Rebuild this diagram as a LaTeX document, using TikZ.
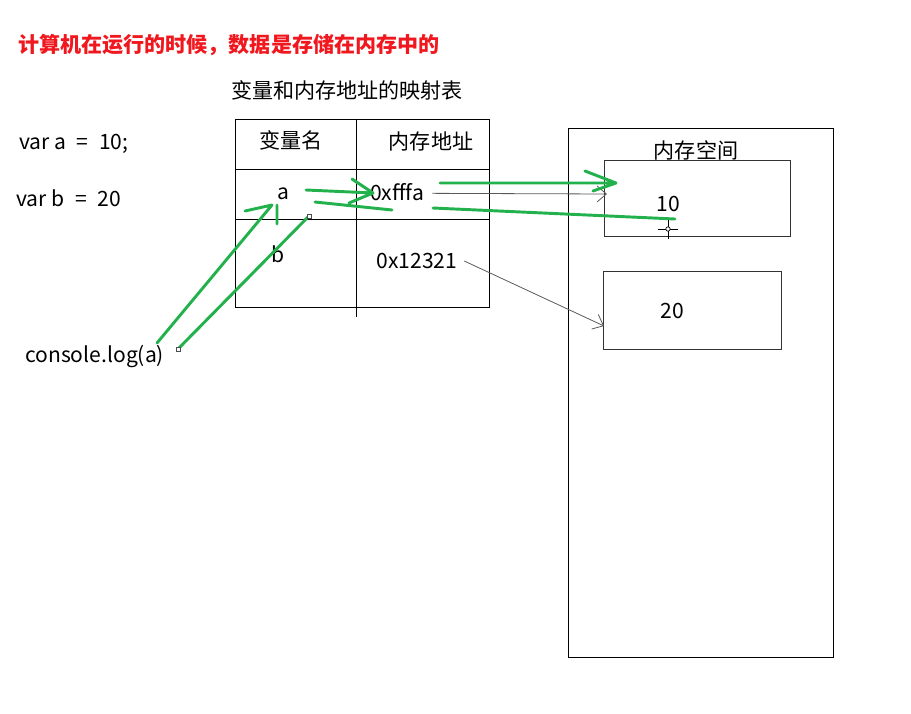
\documentclass[tikz,border=0pt]{standalone}
\usepackage{fontspec}
\setmainfont{Noto Sans CJK SC}
\usetikzlibrary{arrows.meta}
\definecolor{penGreen}{RGB}{34,177,76}
\definecolor{headRed}{RGB}{240,24,30}
\begin{document}
\begin{tikzpicture}[x=0.75pt,y=-0.75pt,
  every node/.style={inner sep=0pt},
  label/.style={font=\fontsize{15.8}{19}\selectfont},
  rule/.style={draw=black, line width=0.75pt},
  cellbox/.style={draw=black!80, line width=0.75pt, anchor=north west},
  pointer/.style={draw=black!65, line width=0.6pt,
    -{Straight Barb[length=7pt,width=12pt,line width=0.6pt]}},
  pen/.style={draw=penGreen, line width=2.2pt, line cap=round, line join=round},
  handle/.style={draw=black!70, fill=white, line width=0.5pt,
    minimum size=3pt, anchor=center}]
\useasboundingbox (0,0) rectangle (911,714);

% heading and caption
\node[anchor=west, font=\fontsize{15.8}{19}\selectfont\bfseries, text=headRed]
  (heading) at (18,45) {计算机在运行的时候，数据是存储在内存中的};
\node[anchor=west, label] (caption) at (231,90) {变量和内存地址的映射表};

% source lines
\node[anchor=west, label] (declA) at (19,144) {var a \;=\; 10;};
\node[anchor=west, label] (declB) at (16,198) {var b \;=\; 20};
\node[anchor=west, label] (logA) at (25,357) {console.log(a)};

% mapping table
\draw[rule] (235,119) rectangle (489,307);
\draw[rule] (356,119) -- (356,317);
\draw[rule] (235,169) -- (489,169);
\draw[rule] (235,219) -- (489,219);
\node[label] (hName) at (291,140) {变量名};
\node[label] (hAddr) at (431,142) {内存地址};
\node[label] (varA) at (283,194) {a};
\node[label] (varB) at (278,254) {b};
\node[label] (addrA) at (397,192) {0xfffa};
\node[label] (addrB) at (417,261) {0x12321};

% memory space
\draw[rule] (568,128) rectangle (833,657);
\node[label] (memTitle) at (696,150) {内存空间};
\node[cellbox, minimum width=139.5pt, minimum height=57pt] (cellA) at (604,160) {};
\node[cellbox, minimum width=133.5pt, minimum height=58.5pt] (cellB) at (603,271) {};
\node[label] (valA) at (668,204) {10};
\node[label] (valB) at (672,311) {20};

% address pointers
\coordinate (tipA) at (607,194);
\coordinate (tipB) at (604,326);
\draw[pointer] ([xshift=6pt,yshift=-1pt]addrA.east) -- (tipA);
\draw[pointer] ([xshift=5pt]addrB.east) -- (tipB);

% hand-drawn lookup path
\coordinate (g1s) at (306,190); \coordinate (g1e) at (373,193);
\draw[pen] (g1s) -- (g1e) (352,179) -- (g1e) -- (349,203);
\draw[pen] (392,210) -- (315,202);
\coordinate (g2s) at (440,183); \coordinate (g2e) at (616,183);
\draw[pen] (g2s) -- (g2e) (585,171) -- (g2e) -- (593,191);
\draw[pen] (675,219) -- (433,208);
\coordinate (g5s) at (157,343); \coordinate (g5e) at (272,205);
\draw[pen] (g5s) -- (g5e) -- (245,211) (277,205) -- (277,224);
\coordinate (g6s) at (309,216); \coordinate (g6e) at (178,349);
\draw[pen] (g6s) -- (g6e);
\node[handle] (hd1) at (g6s) {};
\node[handle] (hd2) at (g6e) {};

% cursor crosshair
\draw[black, line width=0.5pt] (658,229) -- (678,229) (668,220) -- (668,239);
\draw[black, line width=0.5pt, fill=white] (668,229) circle (2.2);
\end{tikzpicture}
\end{document}
